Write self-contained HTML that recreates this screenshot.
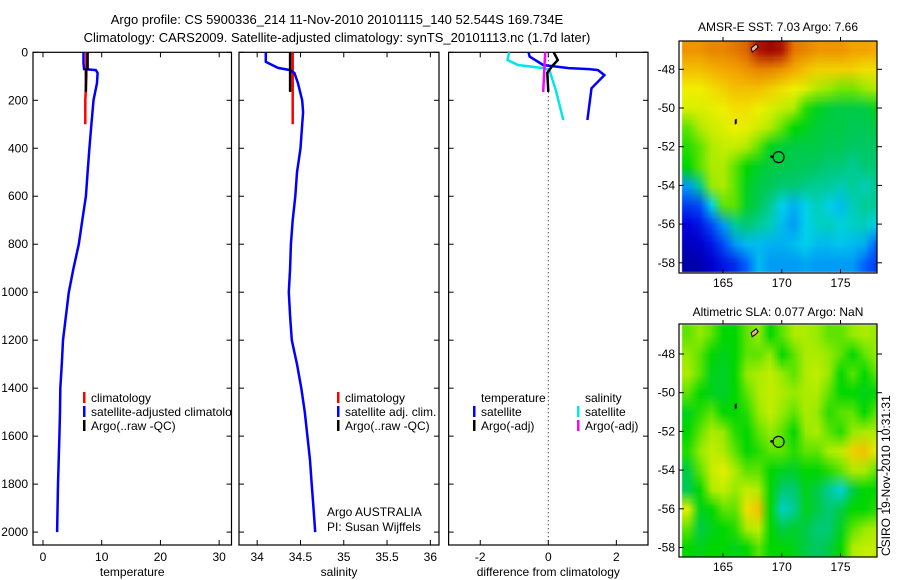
<!DOCTYPE html>
<html><head><meta charset="utf-8">
<style>
body{margin:0;background:#fff;width:900px;height:580px;overflow:hidden;font-family:"Liberation Sans",sans-serif;}
#root{position:relative;width:900px;height:580px;}
svg{position:absolute;left:0;top:0;}
canvas{position:absolute;}
text{font-family:"Liberation Sans",sans-serif;font-size:12px;fill:#000;}
</style></head>
<body><div id="root">
<canvas id="sstmap" style="left:679px;top:41px" width="198" height="232"></canvas>
<canvas id="slamap" style="left:679px;top:324px" width="198" height="233"></canvas>
<svg id="fig" width="900" height="580">
<defs><clipPath id="clip1"><rect x="33" y="40" width="198.5" height="510"/></clipPath></defs>
<text x="337" y="24" text-anchor="middle" style="font-size:13px">Argo profile: CS 5900336_214 11-Nov-2010 20101115_140 52.544S 169.734E</text>
<text x="337" y="42" text-anchor="middle" style="font-size:13px">Climatology: CARS2009. Satellite-adjusted climatology: synTS_20101113.nc (1.7d later)</text>
<text x="778" y="31" text-anchor="middle">AMSR-E SST: 7.03 Argo: 7.66</text>
<text x="778" y="316" text-anchor="middle">Altimetric SLA: 0.077 Argo: NaN</text>
<text transform="translate(890,556) rotate(-90)">CSIRO 19-Nov-2010 10:31:31</text>
<text x="327" y="516">Argo AUSTRALIA</text>
<text x="327" y="531">PI: Susan Wijffels</text>
</svg>
</div>
<script>
// ---- profile data ----
const tClimDepth=[0,100,200,300];
const tClimVal=[7.4,7.4,7.2,7.2];
const tSatDepth=[0,45,70,74,86,128,200,300,400,500,600,700,800,900,1000,1100,1200,1300,1400,1500,1600,1800,2000];
const tSatVal=[6.9,6.9,7.0,9.0,9.3,9.2,8.6,8.25,7.9,7.6,7.3,6.7,6.1,5.2,4.4,3.9,3.4,3.2,2.95,2.9,2.8,2.55,2.4];
const tArgoDepth=[0,70,72,165];
const tArgoVal=[7.6,7.6,7.3,7.3];
const sClimDepth=[0,200,300];
const sClimVal=[34.41,34.41,34.41];
const sSatDepth=[0,40,65,74,86,128,200,250,300,400,500,600,700,800,900,1000,1100,1200,1300,1400,1500,1600,1700,1800,1900,2000];
const sSatVal=[34.10,34.10,34.24,34.38,34.43,34.47,34.52,34.53,34.52,34.50,34.46,34.44,34.41,34.39,34.38,34.365,34.38,34.40,34.46,34.51,34.55,34.58,34.61,34.63,34.65,34.67];
const sArgoDepth=[0,165];
const sArgoVal=[34.38,34.38];
const dTSatDepth=[0,18,53,66,70,74,95,150,282];
const dTSatVal=[-0.58,-0.55,-0.15,0.6,1.2,1.46,1.65,1.27,1.15];
const dSSatDepth=[0,32,53,66,74,157,282];
const dSSatVal=[-1.15,-1.2,-0.89,-0.15,0.03,0.22,0.44];
const dTArgoDepth=[0,32,60,86,165];
const dTArgoVal=[0.16,0.28,0.1,-0.03,0];
const dSArgoDepth=[0,165];
const dSArgoVal=[-0.09,-0.15];
const depthTicks=[0,200,400,600,800,1000,1200,1400,1600,1800,2000];
const tTicks=[0,10,20,30];
const sTicks=[34,34.5,35,35.5,36];
const sTickLabels=["34","34.5","35","35.5","36"];
const dTicks=[-2,0,2];
// ---- map data (rows lat -47..-58, cols lon 162..178) ----
const mapLats=[-47,-48,-49,-50,-51,-52,-53,-54,-55,-56,-57,-58];
const mapLons=[162,163,164,165,166,167,168,169,170,171,172,173,174,175,176,177,178];
const sstGrid=[
[.78,.78,.8,.8,.82,.85,.92,.95,.92,.82,.8,.78,.78,.78,.76,.76,.75],
[.72,.72,.74,.75,.76,.78,.8,.8,.78,.75,.72,.7,.7,.7,.7,.68,.68],
[.66,.66,.68,.7,.72,.72,.72,.7,.68,.66,.64,.6,.58,.56,.56,.58,.6],
[.64,.64,.65,.66,.68,.68,.66,.64,.62,.6,.52,.48,.46,.45,.45,.45,.48],
[.55,.6,.63,.64,.66,.65,.63,.6,.55,.5,.48,.46,.45,.45,.44,.44,.45],
[.52,.55,.6,.62,.62,.6,.55,.48,.46,.45,.45,.45,.44,.44,.43,.43,.43],
[.5,.55,.6,.6,.55,.5,.47,.45,.45,.44,.44,.43,.42,.42,.4,.42,.42],
[.3,.4,.58,.6,.55,.48,.45,.44,.42,.42,.41,.4,.4,.38,.4,.38,.4],
[.2,.22,.35,.55,.55,.47,.44,.4,.35,.32,.35,.38,.35,.33,.38,.4,.4],
[.12,.15,.22,.3,.4,.42,.4,.38,.33,.3,.35,.37,.38,.36,.37,.38,.35],
[.08,.1,.15,.22,.3,.33,.33,.32,.32,.33,.35,.33,.33,.34,.33,.32,.25],
[.05,.06,.1,.15,.18,.25,.33,.3,.3,.3,.31,.3,.3,.3,.3,.25,.2]];
const slaGrid=[
[.55,.58,.55,.5,.5,.55,.58,.5,.55,.6,.6,.58,.55,.55,.58,.6,.58],
[.58,.55,.5,.48,.5,.55,.55,.58,.5,.55,.6,.6,.58,.55,.5,.55,.58],
[.6,.55,.48,.47,.5,.58,.6,.62,.58,.55,.6,.62,.58,.5,.55,.5,.55],
[.55,.5,.48,.47,.5,.55,.6,.62,.6,.58,.6,.6,.55,.5,.5,.48,.5],
[.48,.52,.55,.5,.5,.52,.58,.62,.58,.55,.6,.58,.52,.55,.55,.5,.55],
[.5,.55,.6,.58,.52,.5,.55,.58,.55,.5,.58,.6,.55,.52,.58,.6,.6],
[.52,.58,.62,.6,.55,.5,.52,.55,.55,.52,.55,.55,.6,.62,.7,.72,.65],
[.45,.55,.62,.65,.6,.55,.55,.5,.48,.47,.5,.5,.52,.55,.6,.6,.55],
[.44,.5,.6,.62,.58,.62,.6,.5,.42,.42,.48,.45,.4,.36,.45,.5,.5],
[.65,.48,.5,.55,.55,.68,.72,.5,.37,.4,.48,.45,.42,.45,.5,.5,.52],
[.55,.45,.48,.5,.52,.6,.62,.5,.45,.47,.45,.42,.42,.48,.55,.58,.6],
[.5,.48,.5,.5,.48,.5,.55,.5,.5,.48,.45,.43,.45,.5,.6,.62,.62]];
const latTicks=[-48,-50,-52,-54,-56,-58];
const lonTicks=[165,170,175];
const floatLon=169.73, floatLat=-52.54;

const NS='http://www.w3.org/2000/svg';
const svg=document.getElementById('fig');
function mk(tag,attrs,parent){const e=document.createElementNS(NS,tag);for(const k in attrs)e.setAttribute(k,attrs[k]);(parent||svg).appendChild(e);return e;}
const yTop=52.3,yPx=0.2399;
const yD=d=>yTop+d*yPx;
const panels=[
 {l:33,r:231.5,x0:-1.7,x1:32.1,ticks:tTicks,labels:tTicks.map(String),xlabel:'temperature',name:'temperature-panel'},
 {l:239,r:439,x0:33.79,x1:36.1,ticks:sTicks,labels:sTickLabels,xlabel:'salinity',name:'salinity-panel'},
 {l:448.6,r:648,x0:-2.93,x1:2.93,ticks:dTicks,labels:dTicks.map(String),xlabel:'difference from climatology',name:'difference-panel'}];
const boxB=545;
panels.forEach((p,i)=>{
 p.x=v=>p.l+(v-p.x0)/(p.x1-p.x0)*(p.r-p.l);
 const g=mk('g',{});
 
 
 const r=mk('rect',{x:p.l,y:yTop,width:p.r-p.l,height:boxB-yTop,fill:'none',stroke:'#000','stroke-width':1.2},g);
 
 
 depthTicks.forEach(d=>{
  mk('line',{x1:p.l,x2:p.l+5,y1:yD(d),y2:yD(d),stroke:'#000'},g);
  mk('line',{x1:p.r,x2:p.r-5,y1:yD(d),y2:yD(d),stroke:'#000'},g);
  if(i===0){const t=mk('text',{x:28,y:yD(d)+4,'text-anchor':'end'},g);t.textContent=d;
   
   }
 });
 p.ticks.forEach((v,k)=>{
  const x=p.x(v);
  mk('line',{x1:x,x2:x,y1:boxB,y2:boxB-5,stroke:'#000'},g);
  mk('line',{x1:x,x2:x,y1:yTop,y2:yTop+5,stroke:'#000'},g);
  const t=mk('text',{x:x,y:561,'text-anchor':'middle'},g);t.textContent=p.labels[k];
  
  
 });
 const xl=mk('text',{x:(p.l+p.r)/2,y:576,'text-anchor':'middle'},g);xl.textContent=p.xlabel;
 
 
});
function line(p,dep,val,color,name){
 const pts=dep.map((d,k)=>p.x(val[k]).toFixed(1)+','+yD(d).toFixed(1)).join(' ');
 const e=mk('polyline',{points:pts,fill:'none',stroke:color,'stroke-width':2.5});
 
 
}
const [P1,P2,P3]=panels;
line(P1,tClimDepth,tClimVal,'#ff0000','temp-climatology-line');
line(P1,tSatDepth,tSatVal,'#0000ff','temp-satellite-line');
line(P1,tArgoDepth,tArgoVal,'#000000','temp-argo-line');
line(P2,sClimDepth,sClimVal,'#ff0000','sal-climatology-line');
line(P2,sSatDepth,sSatVal,'#0000ff','sal-satellite-line');
line(P2,sArgoDepth,sArgoVal,'#000000','sal-argo-line');
const zl=mk('line',{x1:P3.x(0),x2:P3.x(0),y1:yTop,y2:boxB,stroke:'#000','stroke-dasharray':'1,3'});


line(P3,dSSatDepth,dSSatVal,'#00e5ee','sal-diff-satellite-line');
line(P3,dTSatDepth,dTSatVal,'#0000ff','temp-diff-satellite-line');
line(P3,dTArgoDepth,dTArgoVal,'#000000','temp-diff-argo-line');
line(P3,dSArgoDepth,dSArgoVal,'#ff00ff','sal-diff-argo-line');
function legend(x,y,color,label,clip){
 const g=mk('g',clip?{'clip-path':'url(#clip1)'}:{});
 
 
 if(color)mk('rect',{x:x-8,y:y-10,width:2.5,height:11,fill:color},g);
 const t=mk('text',{x:x,y:y},g);t.textContent=label;
}
legend(91,402,'#ff0000','climatology',1);
legend(91,416,'#0000ff','satellite-adjusted climatology',1);
legend(91,430,'#000000','Argo(..raw -QC)',1);
legend(345,402,'#ff0000','climatology');
legend(345,416,'#0000ff','satellite adj. clim.');
legend(345,430,'#000000','Argo(..raw -QC)');
legend(481,402,null,'temperature');
legend(481,416,'#0000ff','satellite');
legend(481,430,'#000000','Argo(-adj)');
legend(585,402,null,'salinity');
legend(585,416,'#00e5ee','satellite');
legend(585,430,'#ff00ff','Argo(-adj)');
// ---- maps ----
const stops=[[0,[0,0,130]],[.12,[0,0,220]],[.25,[0,100,255]],[.35,[0,210,235]],[.43,[0,200,100]],[.5,[0,215,0]],[.58,[150,235,0]],[.66,[240,240,0]],[.75,[245,170,0]],[.85,[220,100,0]],[.93,[170,10,0]],[1,[130,0,0]]];
function cmap(v){for(let i=1;i<stops.length;i++){if(v<=stops[i][0]){const a=stops[i-1],b=stops[i],f=(v-a[0])/(b[0]-a[0]);return a[1].map((c,k)=>Math.round(c+f*(b[1][k]-c)));}}return stops[stops.length-1][1];}
const lonX=lon=>723+(lon-165)*11.75;
function drawMap(id,grid,top,latY0){
 const cv=document.getElementById(id),ctx=cv.getContext('2d');
 const off=document.createElement('canvas');off.width=mapLons.length;off.height=mapLats.length;
 const oc=off.getContext('2d');const img=oc.createImageData(off.width,off.height);
 grid.forEach((row,r)=>row.forEach((v,c)=>{const col=cmap(v),k=(r*off.width+c)*4;img.data[k]=col[0];img.data[k+1]=col[1];img.data[k+2]=col[2];img.data[k+3]=255;}));
 oc.putImageData(img,0,0);
 ctx.imageSmoothingEnabled=true;
 const latY=lat=>latY0+(-48-lat)*19.35-top;
 const x0=lonX(mapLons[0]-0.5)-679,x1=lonX(mapLons[mapLons.length-1]+0.5)-679;
 const y0=latY(mapLats[0]+0.5),y1=latY(mapLats[mapLats.length-1]-0.5);
 ctx.drawImage(off,x0,y0,x1-x0,y1-y0);
 const H=cv.height;
 const g=mk('g',{});
 
 
 mk('rect',{x:679,y:top,width:198,height:H,fill:'none',stroke:'#000','stroke-width':1.2},g);
 latTicks.forEach(l=>{const y=latY(l)+top;
  mk('line',{x1:679,x2:684,y1:y,y2:y,stroke:'#000'},g);
  mk('line',{x1:877,x2:882,y1:y,y2:y,stroke:'#000'},g);
  const t=mk('text',{x:675,y:y+4,'text-anchor':'end'},g);t.textContent=l;
  
  
 });
 lonTicks.forEach(l=>{const x=lonX(l);
  mk('line',{x1:x,x2:x,y1:top,y2:top-4,stroke:'#000'},g);
  mk('line',{x1:x,x2:x,y1:top+H,y2:top+H-4,stroke:'#000'},g);
  const t=mk('text',{x:x,y:top+H+14,'text-anchor':'middle'},g);t.textContent=l;
  
  
 });
 mk('path',{d:`M${lonX(166.0)} ${latY(-50.6)+top} l2 -1 l0 5 l-2 1 z`,fill:'#000'},g);
 mk('path',{d:`M${lonX(167.4)} ${latY(-46.9)+top} l5 -4 l2 3 l-3 3 l-3 2 z`,fill:'#f0b090',stroke:'#000','stroke-width':1},g);
 const c=mk('circle',{cx:lonX(floatLon),cy:latY(floatLat)+top,r:5.5,fill:'none',stroke:'#000','stroke-width':1.2},g);
 
 
 mk('circle',{cx:lonX(floatLon)-7,cy:latY(floatLat)+top-0.5,r:1.3,fill:'#000'},g);
}
drawMap('sstmap',sstGrid,41,69.3);
drawMap('slamap',slaGrid,324,354);
</script>
</body></html>
